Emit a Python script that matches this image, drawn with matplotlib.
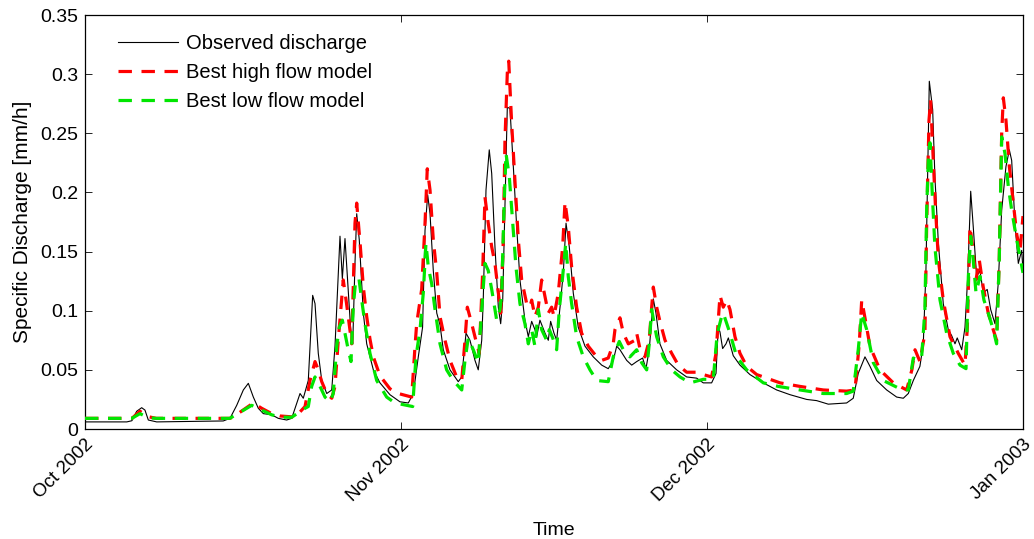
import datetime as dt
import numpy as np
import matplotlib
matplotlib.use("Agg")
import matplotlib.pyplot as plt
import matplotlib.dates as mdates

# ---------------- data (days since 2002-10-01, specific discharge mm/h) -------------
obs_day = [0, 4.1, 4.6, 5.07, 5.56, 5.88, 6.21, 7.03, 13.56, 14.22, 14.88, 15.53, 16.02, 16.51,
           17.0, 17.49, 18.31, 18.96, 19.78, 20.27, 21.09, 21.41, 21.9, 22.33, 22.56, 22.88,
           23.22, 23.71, 24.2, 24.52, 25.01, 25.24, 25.5, 25.82, 26.06, 26.26, 26.48, 26.65,
           26.9, 27.3, 27.63, 28.28, 28.93, 29.91, 30.89, 31.71, 32.2, 32.69, 33.11, 33.35,
           33.61, 33.84, 34.16, 34.5, 34.82, 35.14, 35.8, 36.61, 36.95, 37.37, 37.76, 38.25,
           38.57, 38.91, 39.06, 39.33, 39.65, 39.89, 40.21, 40.54, 40.77, 40.97, 41.19, 41.42,
           41.68, 42.01, 42.34, 42.66, 43.15, 43.48, 43.81, 44.13, 44.3, 44.62, 45.12, 45.44,
           45.67, 46.0, 46.26, 46.59, 46.91, 47.18, 47.5, 47.89, 48.38, 49.04, 49.85, 50.68,
           51.32, 51.81, 52.15, 52.47, 53.13, 53.62, 54.11, 54.69, 55.02, 55.34, 55.74, 56.0,
           56.39, 57.05, 58.03, 59.01, 59.99, 60.64, 61.46, 61.89, 62.11, 62.28, 62.54, 62.87,
           63.1, 63.58, 64.24, 65.22, 66.53, 67.84, 69.15, 70.78, 71.76, 72.9, 74.7, 75.35,
           75.84, 76.5, 76.99, 77.65, 78.63, 79.61, 80.26, 80.75, 81.24, 81.89, 82.22, 82.48,
           82.81, 83.14, 83.36, 83.7, 84.18, 84.67, 85.0, 85.33, 85.55, 85.99, 86.31, 86.58,
           86.87, 87.12, 87.45, 87.78, 88.1, 88.49, 88.83, 89.25, 89.57, 89.91, 90.33, 90.66,
           90.89, 91.21, 91.54, 91.87, 92.0]
obs_val = [0.006, 0.006, 0.007, 0.015, 0.018, 0.016, 0.0076, 0.006, 0.0068, 0.009, 0.020, 0.033,
           0.0386, 0.027, 0.0175, 0.013, 0.012, 0.009, 0.0076, 0.009, 0.030, 0.026, 0.041, 0.113,
           0.106, 0.064, 0.041, 0.030, 0.033, 0.070, 0.163, 0.127, 0.161, 0.117, 0.084, 0.072,
           0.140, 0.182, 0.160, 0.098, 0.072, 0.050, 0.039, 0.029, 0.023, 0.022, 0.030, 0.061,
           0.086, 0.168, 0.198, 0.182, 0.134, 0.098, 0.088, 0.067, 0.050, 0.040, 0.044, 0.081,
           0.075, 0.058, 0.050, 0.075, 0.109, 0.202, 0.236, 0.216, 0.154, 0.103, 0.089, 0.109,
           0.188, 0.272, 0.271, 0.222, 0.171, 0.126, 0.092, 0.078, 0.091, 0.084, 0.078, 0.092,
           0.081, 0.075, 0.091, 0.081, 0.075, 0.103, 0.132, 0.174, 0.154, 0.115, 0.086, 0.070,
           0.061, 0.054, 0.051, 0.058, 0.070, 0.067, 0.058, 0.054, 0.057, 0.060, 0.051, 0.067,
           0.110, 0.098, 0.072, 0.058, 0.050, 0.044, 0.043, 0.039, 0.039, 0.047, 0.086, 0.082,
           0.068, 0.072, 0.077, 0.062, 0.054, 0.046, 0.039, 0.033, 0.029, 0.025, 0.024, 0.021,
           0.022, 0.026, 0.047, 0.061, 0.053, 0.041, 0.033, 0.027, 0.026, 0.030, 0.041, 0.053,
           0.072, 0.134, 0.294, 0.270, 0.213, 0.157, 0.106, 0.084, 0.079, 0.072, 0.077, 0.067,
           0.086, 0.129, 0.201, 0.171, 0.129, 0.134, 0.115, 0.118, 0.101, 0.089, 0.123, 0.185,
           0.222, 0.236, 0.227, 0.174, 0.140, 0.151, 0.134]

high_day = [0, 4.6, 5.39, 6.2, 7.0, 14.2, 14.5, 16.51, 17.33, 18.31, 19.13, 20.11, 20.6, 21.58,
            22.07, 22.56, 22.88, 23.22, 23.71, 24.2, 24.52, 24.84, 25.33, 25.67, 26.16, 26.48,
            26.65, 27.0, 27.3, 27.63, 27.95, 28.28, 28.93, 29.91, 30.73, 32.04, 32.37, 32.53,
            33.02, 33.35, 33.57, 33.84, 34.16, 34.5, 34.82, 35.31, 35.8, 36.45, 36.95, 37.27,
            37.5, 37.93, 38.42, 38.67, 39.0, 39.23, 39.55, 39.89, 40.21, 40.54, 40.77, 41.03,
            41.19, 41.42, 41.56, 41.85, 42.17, 42.5, 42.83, 43.32, 43.64, 43.81, 44.13, 44.46,
            44.79, 45.12, 45.44, 45.77, 46.0, 46.42, 46.85, 47.08, 47.4, 47.73, 48.22, 48.71,
            49.36, 50.19, 50.68, 51.32, 51.81, 51.98, 52.47, 52.8, 53.29, 53.94, 54.11, 54.43,
            54.92, 55.34, 55.58, 55.74, 56.07, 56.39, 56.89, 57.54, 58.19, 59.01, 59.99, 60.64,
            61.46, 61.89, 62.11, 62.28, 62.6, 62.94, 63.26, 63.75, 64.24, 64.9, 65.88, 67.18,
            68.17, 70.13, 72.41, 74.7, 75.52, 75.94, 76.18, 76.5, 76.99, 77.97, 79.28, 80.59,
            81.1, 81.41, 81.89, 82.38, 82.55, 82.78, 82.94, 83.2, 83.43, 83.7, 84.18, 84.84,
            85.65, 86.31, 86.54, 86.8, 87.06, 87.39, 87.71, 88.1, 88.59, 89.08, 89.41, 89.67,
            89.91, 90.07, 90.33, 90.66, 91.05, 91.38, 91.7, 92.0]
high_val = [0.009, 0.009, 0.015, 0.0104, 0.009, 0.009, 0.010, 0.022, 0.0175, 0.013, 0.011, 0.0104,
            0.0099, 0.019, 0.041, 0.057, 0.050, 0.040, 0.030, 0.026, 0.036, 0.075, 0.126, 0.105,
            0.072, 0.174, 0.191, 0.155, 0.120, 0.095, 0.076, 0.061, 0.045, 0.034, 0.030, 0.027,
            0.070, 0.089, 0.118, 0.174, 0.220, 0.202, 0.160, 0.132, 0.095, 0.075, 0.058, 0.044,
            0.041, 0.075, 0.103, 0.089, 0.072, 0.064, 0.132, 0.196, 0.174, 0.154, 0.140, 0.115,
            0.098, 0.160, 0.244, 0.301, 0.311, 0.258, 0.210, 0.160, 0.126, 0.106, 0.103, 0.109,
            0.095, 0.103, 0.126, 0.112, 0.098, 0.103, 0.095, 0.115, 0.154, 0.192, 0.171, 0.137,
            0.103, 0.081, 0.070, 0.061, 0.058, 0.060, 0.072, 0.084, 0.094, 0.081, 0.072, 0.075,
            0.081, 0.068, 0.061, 0.075, 0.103, 0.120, 0.103, 0.091, 0.075, 0.064, 0.054, 0.048,
            0.048, 0.046, 0.044, 0.064, 0.092, 0.113, 0.103, 0.109, 0.101, 0.078, 0.064, 0.053,
            0.046, 0.042, 0.039, 0.036, 0.033, 0.032, 0.033, 0.072, 0.109, 0.094, 0.070, 0.050,
            0.039, 0.033, 0.050, 0.067, 0.057, 0.081, 0.171, 0.261, 0.278, 0.227, 0.185, 0.143,
            0.109, 0.078, 0.064, 0.054, 0.086, 0.171, 0.154, 0.126, 0.143, 0.120, 0.098, 0.084,
            0.075, 0.143, 0.250, 0.280, 0.261, 0.222, 0.191, 0.165, 0.150, 0.180]

low_day = [0, 4.6, 5.39, 6.2, 7.0, 14.2, 16.35, 17.33, 18.31, 19.13, 20.27, 21.58, 21.9, 22.23,
           22.56, 22.72, 23.05, 23.54, 24.03, 24.35, 24.69, 24.94, 25.24, 25.5, 25.82, 26.09,
           26.31, 26.55, 26.87, 27.14, 27.46, 27.95, 28.61, 29.59, 30.4, 32.14, 32.46, 32.86,
           33.18, 33.44, 33.67, 34.0, 34.33, 34.82, 35.47, 36.12, 36.95, 37.27, 37.59, 38.08,
           38.57, 38.91, 39.23, 39.55, 39.89, 40.38, 40.7, 40.87, 41.09, 41.29, 41.62, 41.95,
           42.27, 42.66, 43.15, 43.48, 43.81, 44.13, 44.46, 44.79, 45.28, 45.54, 45.87, 46.26,
           46.52, 46.85, 47.15, 47.4, 47.73, 48.22, 48.87, 49.53, 50.19, 51.32, 51.81, 52.4,
           52.8, 53.45, 54.11, 54.6, 55.09, 55.34, 55.58, 56.07, 56.72, 57.54, 58.36, 59.34,
           60.64, 61.62, 61.95, 62.11, 62.44, 62.6, 63.26, 63.92, 64.9, 66.53, 68.0, 70.13,
           72.41, 74.7, 75.35, 75.84, 76.18, 76.67, 77.32, 78.3, 79.93, 80.75, 81.24, 81.73,
           82.06, 82.38, 82.55, 82.71, 82.88, 83.1, 83.36, 83.86, 84.51, 85.16, 85.82, 86.41,
           86.64, 86.87, 87.12, 87.39, 87.78, 88.17, 88.59, 89.08, 89.41, 89.67, 89.91, 90.23,
           90.56, 90.89, 91.38, 91.7, 92.0]
low_val = [0.009, 0.009, 0.013, 0.0095, 0.009, 0.009, 0.020, 0.016, 0.012, 0.010, 0.0099, 0.0175,
           0.019, 0.036, 0.044, 0.041, 0.036, 0.027, 0.023, 0.030, 0.070, 0.086, 0.092, 0.081,
           0.067, 0.057, 0.103, 0.126, 0.127, 0.109, 0.089, 0.064, 0.041, 0.027, 0.022, 0.019,
           0.061, 0.084, 0.115, 0.157, 0.137, 0.123, 0.101, 0.072, 0.050, 0.041, 0.033, 0.058,
           0.077, 0.067, 0.056, 0.101, 0.140, 0.134, 0.118, 0.092, 0.101, 0.115, 0.185, 0.233,
           0.213, 0.174, 0.137, 0.106, 0.089, 0.072, 0.084, 0.070, 0.101, 0.084, 0.075, 0.084,
           0.077, 0.067, 0.101, 0.129, 0.157, 0.129, 0.106, 0.078, 0.061, 0.050, 0.041, 0.040,
           0.061, 0.074, 0.067, 0.061, 0.067, 0.056, 0.050, 0.072, 0.101, 0.078, 0.061, 0.050,
           0.044, 0.039, 0.042, 0.042, 0.075, 0.084, 0.095, 0.098, 0.081, 0.061, 0.050, 0.039,
           0.036, 0.033, 0.030, 0.030, 0.032, 0.067, 0.098, 0.084, 0.056, 0.041, 0.034, 0.033,
           0.060, 0.058, 0.061, 0.101, 0.185, 0.227, 0.242, 0.199, 0.154, 0.109, 0.081, 0.064,
           0.054, 0.051, 0.129, 0.163, 0.143, 0.115, 0.129, 0.109, 0.098, 0.084, 0.072, 0.143,
           0.247, 0.233, 0.205, 0.185, 0.160, 0.146, 0.132]

labels = ["Observed discharge", "Best high flow model", "Best low flow model"]
month_ticks = ["Oct 2002", "Nov 2002", "Dec 2002", "Jan 2003"]
y_ticks = [0, 0.05, 0.1, 0.15, 0.2, 0.25, 0.3, 0.35]
y_ticklabels = ["0", "0.05", "0.1", "0.15", "0.2", "0.25", "0.3", "0.35"]

# ---------------- plotting ----------------
plt.rcParams['font.family'] = ['Liberation Sans', 'DejaVu Sans']

start = dt.datetime(2002, 10, 1)
base = mdates.date2num(start)

def to_dates(days):
    return base + np.asarray(days, dtype=float)

fig = plt.figure(figsize=(10.34, 5.39), dpi=100)
ax = fig.add_axes([85 / 1034, 1 - 429 / 539, (1023 - 85) / 1034, (429 - 15) / 539])

ax.plot(to_dates(obs_day), obs_val, color='black', lw=0.8, label=labels[0], zorder=3)
ax.plot(to_dates(high_day), high_val, color='#ff0000', lw=2.3, ls=(0, (4.2, 3)), label=labels[1], zorder=4)
ax.plot(to_dates(low_day), low_val, color='#00e600', lw=2.3, ls=(0, (4.2, 3)), label=labels[2], zorder=5)

ax.set_xlim(base, base + 92)
ax.set_ylim(0, 0.35)

tick_dates = [mdates.date2num(dt.datetime(2002, 10, 1)), mdates.date2num(dt.datetime(2002, 11, 1)),
              mdates.date2num(dt.datetime(2002, 12, 1)), mdates.date2num(dt.datetime(2003, 1, 1))]
ax.set_xticks(tick_dates)
ax.set_xticklabels(month_ticks, rotation=45, ha='right', rotation_mode='anchor', fontsize=13.5)
ax.set_yticks(y_ticks)
ax.set_yticklabels(y_ticklabels, fontsize=14)

ax.tick_params(direction='in', length=5, width=0.6, top=True, right=True, pad=5)
for s in ax.spines.values():
    s.set_linewidth(0.9)

ax.set_xlabel("Time", fontsize=14, labelpad=12)
ax.set_ylabel("Specific Discharge [mm/h]", fontsize=15, labelpad=6)

leg = ax.legend(loc='upper left', bbox_to_anchor=(0.017, 0.995), frameon=False, fontsize=14.5,
                handlelength=3.0, handletextpad=0.35, labelspacing=0.5, borderaxespad=0.5,
                borderpad=0.35)
leg.set_zorder(10)

fig.savefig("out.png", dpi=100)
